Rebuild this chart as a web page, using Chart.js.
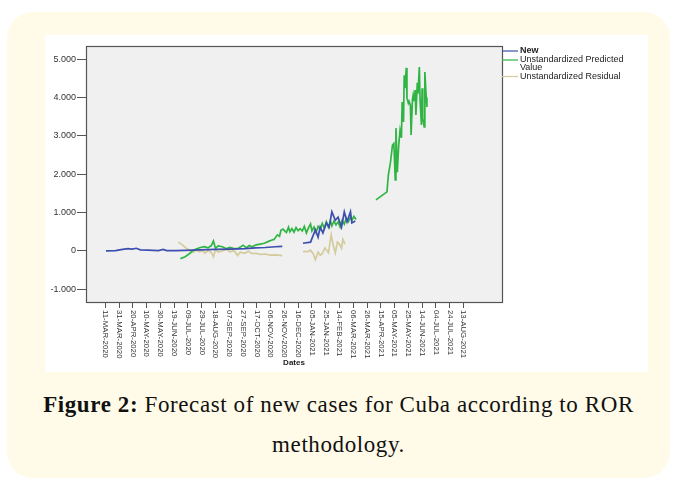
<!DOCTYPE html>
<html>
<head>
<meta charset="utf-8">
<script src="https://cdn.jsdelivr.net/npm/chart.js@4.4.0/dist/chart.umd.min.js"></script>
<style>
  body { margin: 0; background: #ffffff; }
  #box { position: absolute; left: 7px; top: 12px; width: 663px; height: 466px;
         background: #fffbe8; border-radius: 26px; }
  #fig { position: absolute; left: 45px; top: 35px; width: 603px; height: 337px; background: #ffffff; }
  #cap { position: absolute; left: 7px; top: 385px; width: 663px; text-align: center;
         font-family: "Liberation Serif", serif; font-size: 23px; letter-spacing: 0.6px;
         line-height: 40px; color: #111; }
</style>
</head>
<body>
<div id="box"></div>
<div id="fig"><canvas id="chart" width="603" height="337"></canvas></div>
<div id="cap"><b>Figure 2:</b> Forecast of new cases for Cuba according to ROR<br>methodology.</div>
<script>
// days counted from 11-MAR-2020
const dateLabels = ["11-MAR-2020", "31-MAR-2020", "20-APR-2020", "10-MAY-2020", "30-MAY-2020",
  "19-JUN-2020", "09-JUL-2020", "29-JUL-2020", "18-AUG-2020", "07-SEP-2020", "27-SEP-2020",
  "17-OCT-2020", "06-NOV-2020", "26-NOV-2020", "16-DEC-2020", "05-JAN-2021", "25-JAN-2021",
  "14-FEB-2021", "06-MAR-2021", "26-MAR-2021", "15-APR-2021", "05-MAY-2021", "25-MAY-2021",
  "14-JUN-2021", "04-JUL-2021", "24-JUL-2021", "13-AUG-2021"];
const yTicks = [-1000, 0, 1000, 2000, 3000, 4000, 5000];

const newDays = [1, 15, 25, 33, 39, 45, 51, 62, 77, 84, 89, 102, 116, 138, 160, 181, 203, 218, 232, 247, 257,
  272,
  287, 298, 305, 309, 312, 316, 321, 325, 329, 334, 338, 343, 347, 351, 356, 358, 363];
const newVals = [0, 10, 40, 60, 50, 70, 30, 20, 10, 40, 10, 10, 15, 30, 40, 50, 60, 80, 90, 110, 120,
  null,
  200, 230, 550, 360, 620, 470, 730, 620, 1020, 800, 880, 620, 1020, 760, 1020, 730, 780];

const predDays = [109, 116, 123, 128, 132, 138, 144, 149, 154, 157, 160, 164, 170, 176, 181, 186, 192, 196,
  200, 205, 209, 213, 219, 225, 231, 237, 241, 245, 250, 253, 255, 258, 263, 266, 268, 271, 274, 277, 280,
  283, 286, 289, 292, 295, 298, 300, 303, 306, 309, 312, 315, 318, 321, 324, 327, 329, 332, 335, 338, 341,
  344, 347, 350, 353, 356, 358, 361, 364,
  380,
  393, 409, 411, 414, 417, 419, 421, 422, 424, 426, 428, 430, 431, 433, 434, 435, 437, 438, 440, 441, 443,
  444, 446, 447, 448, 450, 451, 453, 454, 456, 457, 459, 460, 461, 463, 464, 466, 467];
const predVals = [-200, -150, -60, 20, 50, 90, 110, 80, 140, 260, 70, 130, 110, 60, 90, 70, 60, 100,
  150, 80, 140, 110, 160, 180, 200, 250, 280, 300, 420, 380, 540, 570, 480, 620, 500, 580, 490, 610, 530,
  580, 520, 640, 470, 600, 700, 520, 620, 480, 640, 560, 720, 590, 760, 620, 780, 650, 780, 680, 760, 620,
  800, 700, 850, 760, 880, 800, 900, 820,
  null,
  1330, 1540, 1980, 2300, 2760, 2800, 1850, 3200, 2050, 2750, 3150, 2950, 3880, 3360, 4580, 4240, 4770,
  3980, 3850, 3900, 3800, 3020, 3950, 4060, 3900, 4190, 3540, 4380, 4100, 4790, 3950, 3280, 4240, 3460,
  3230, 4660, 4000, 3750];

const residDays = [106, 112, 118, 123, 128, 132, 136, 141, 145, 149, 154, 157, 160, 164, 170, 176, 181,
  187, 192, 196, 202, 208, 213, 219, 225, 232, 239, 247, 257,
  272,
  287, 295, 298, 302, 305, 309, 312, 315, 319, 324, 328, 331, 334, 337, 340, 343, 345, 348];
const residVals = [230, 160, 60, 20, -40, 30, -20, 10, -60, 20, -40, -150, 30, -30, 0, 40, -20,
  10, -120, -30, -60, -10, -70, -60, -90, -80, -110, -100, -120,
  null,
  -20, -10, 20, -80, -230, -30, -110, -70, 80, -50, 420, 150, -50, 230, 180, 70, 300, 180];

const toPoints = (days, vals) => days.map((d, i) => ({ x: d, y: vals[i] }));

const frame = {
  id: "spssFrame",
  beforeDraw(chart) {
    const { ctx, chartArea: a } = chart;
    ctx.save();
    ctx.fillStyle = "#f0f0f0";
    ctx.fillRect(a.left, a.top, a.right - a.left, a.bottom - a.top);
    ctx.restore();
  },
  afterDraw(chart) {
    const { ctx, chartArea: a } = chart;
    const xs = chart.scales.x;
    ctx.save();
    ctx.strokeStyle = "#555";
    ctx.lineWidth = 1.2;
    ctx.strokeRect(a.left + 0.5, a.top + 0.5, a.right - a.left, a.bottom - a.top);

    // date labels, turned to read top to bottom
    ctx.fillStyle = "#333";
    ctx.font = "7.8px Arial, 'Liberation Sans', sans-serif";
    ctx.textAlign = "left";
    ctx.textBaseline = "middle";
    xs.ticks.forEach((t, i) => {
      const px = xs.getPixelForValue(t.value);
      ctx.save();
      ctx.translate(px, a.bottom + 8);
      ctx.rotate(Math.PI / 2);
      ctx.fillText(dateLabels[i], 0, 0);
      ctx.restore();
    });
    ctx.font = "bold 8px Arial, 'Liberation Sans', sans-serif";
    ctx.textAlign = "center";
    ctx.fillStyle = "#222";
    ctx.fillText("Dates", (a.left + a.right) / 2, 328);

    // legend
    let y = 16;
    chart.data.datasets.forEach((ds, i) => {
      ctx.strokeStyle = ds.borderColor;
      ctx.lineWidth = 1.2;
      ctx.beginPath();
      ctx.moveTo(a.right, y);
      ctx.lineTo(a.right + 16, y);
      ctx.stroke();
      ctx.font = (i === 0 ? "bold " : "") + "9px Arial, 'Liberation Sans', sans-serif";
      ctx.textAlign = "left";
      ctx.fillStyle = "#222";
      const words = ds.label.split(" ");
      let line = "";
      const lines = [];
      words.forEach(w => {
        const test = line ? line + " " + w : w;
        if (ctx.measureText(test).width > 125 && line) { lines.push(line); line = w; }
        else line = test;
      });
      lines.push(line);
      lines.forEach((l, k) => ctx.fillText(l, a.right + 18, y + k * 7.5));
      y += lines.length * 7.5 + 1.5;
    });
    ctx.restore();
  }
};

new Chart(document.getElementById("chart"), {
  type: "line",
  data: {
    datasets: [
      { label: "New", data: toPoints(newDays, newVals), borderColor: "#3c4fae" },
      { label: "Unstandardized Predicted Value", data: toPoints(predDays, predVals), borderColor: "#30b545" },
      { label: "Unstandardized Residual", data: toPoints(residDays, residVals), borderColor: "#d4cb9c" }
    ]
  },
  options: {
    responsive: false,
    animation: false,
    spanGaps: false,
    elements: {
      line: { borderWidth: 1.7, tension: 0 },
      point: { radius: 0 }
    },
    layout: { padding: { top: 11, right: 146, left: 0, bottom: 0 } },
    plugins: { legend: { display: false }, tooltip: { enabled: false } },
    scales: {
      x: {
        type: "linear",
        min: -28,
        max: 576,
        afterBuildTicks: s => { s.ticks = dateLabels.map((_, i) => ({ value: i * 20 })); },
        afterFit: s => { s.height = 70; },
        ticks: { display: false },
        border: { display: false },
        grid: { drawOnChartArea: false, tickLength: 6, color: "#555" }
      },
      y: {
        min: -1330,
        max: 5340,
        afterBuildTicks: s => { s.ticks = yTicks.map(v => ({ value: v })); },
        afterFit: s => { s.width = 41; },
        border: { display: false },
        grid: { drawOnChartArea: false, tickLength: 9, color: "#555" },
        ticks: {
          padding: 1,
          color: "#333",
          font: { family: "Arial, 'Liberation Sans', sans-serif", size: 9 },
          callback: v => v.toLocaleString("de-DE")
        }
      }
    }
  },
  plugins: [frame]
});
</script>
</body>
</html>
